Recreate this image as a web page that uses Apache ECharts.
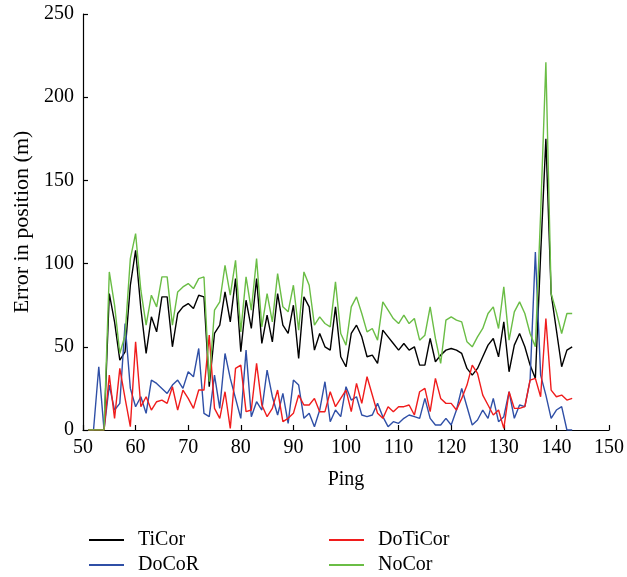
<!DOCTYPE html>
<html>
<head>
<meta charset="utf-8">
<script src="https://cdn.jsdelivr.net/npm/echarts@6/dist/echarts.min.js"></script>
<style>
  html, body { margin: 0; padding: 0; background: #ffffff; }
  #chart { width: 627px; height: 577px; }
</style>
</head>
<body>
<div id="chart"></div>
<script>
// Ping numbers (x) and position error in metres for each correction method
const pings = [
  51, 52, 53, 54, 55, 56, 57, 58, 59, 60, 61, 62, 63, 64, 65, 66, 67, 68, 69, 70,
  71, 72, 73, 74, 75, 76, 77, 78, 79, 80, 81, 82, 83, 84, 85, 86, 87, 88, 89, 90,
  91, 92, 93, 94, 95, 96, 97, 98, 99, 100, 101, 102, 103, 104, 105, 106, 107, 108, 109, 110,
  111, 112, 113, 114, 115, 116, 117, 118, 119, 120, 121, 122, 123, 124, 125, 126, 127, 128, 129, 130,
  131, 132, 133, 134, 135, 136, 137, 138, 139, 140, 141, 142, 143
];

const tiCor = [
  0, 0, 0, 0, 82, 65, 42, 47, 87, 108, 73, 46, 68, 59, 80, 80, 50, 70, 74, 76,
  73, 81, 80, 26, 58, 63, 83, 65, 91, 47, 78, 61, 91, 52, 69, 53, 82, 63, 58, 75,
  43, 80, 74, 48, 58, 50, 48, 74, 44, 38, 58, 63, 56, 44, 45, 40, 60, 56, 52, 48,
  52, 48, 50, 39, 39, 55, 41, 45, 48, 49, 48, 46, 37, 33, 37, 44, 51, 55, 44, 65,
  35, 51, 58, 50, 39, 31, 105, 175, 82, 60, 38, 48, 50
];

const doCoR = [
  0, 0, 38, 0, 27, 12, 16, 64, 25, 14, 20, 10, 30, 28, 25, 22, 27, 30, 25, 35,
  32, 49, 10, 8, 33, 13, 46, 31, 19, 7, 48, 8, 17, 12, 36, 20, 9, 22, 4, 30,
  27, 7, 10, 2, 12, 29, 5, 12, 8, 26, 18, 20, 9, 8, 9, 16, 8, 2, 5, 4,
  7, 9, 8, 7, 19, 7, 3, 3, 7, 3, 12, 25, 14, 3, 6, 12, 7, 19, 5, 8,
  23, 7, 15, 14, 30, 107, 33, 21, 7, 12, 14, 0, 0
];

const doTiCor = [
  0, 0, 0, 0, 33, 7, 37, 19, 2, 53, 14, 20, 12, 17, 18, 16, 26, 12, 24, 19,
  13, 24, 24, 57, 13, 7, 23, 1, 37, 39, 11, 12, 40, 15, 8, 13, 24, 5, 7, 10,
  21, 15, 15, 19, 11, 11, 23, 14, 19, 24, 11, 28, 16, 32, 21, 10, 7, 14, 11, 14,
  14, 15, 9, 23, 25, 11, 31, 19, 16, 16, 12, 19, 27, 39, 34, 21, 15, 9, 12, 1,
  23, 13, 13, 14, 30, 31, 20, 67, 24, 20, 21, 18, 19
];

const noCor = [
  0, 0, 0, 0, 95, 75, 46, 57, 103, 118, 84, 63, 81, 74, 92, 92, 63, 83, 86, 88,
  85, 91, 92, 29, 72, 77, 99, 81, 102, 59, 92, 72, 103, 62, 82, 65, 94, 74, 71, 87,
  60, 95, 87, 63, 68, 64, 62, 89, 58, 51, 74, 80, 70, 59, 61, 54, 77, 72, 67, 64,
  69, 64, 67, 54, 57, 74, 55, 40, 66, 68, 66, 65, 53, 50, 56, 61, 70, 74, 61, 86,
  54, 71, 77, 70, 58, 50, 130, 221, 82, 71, 58, 70, 70
];

const xTicks = { min: 50, max: 150, step: 10 };
const yTicks = { min: 0, max: 250, step: 50 };

const FONT = '"Liberation Serif", "DejaVu Serif", serif';

function pairs(values) {
  return pings.map((p, i) => [p, values[i]]);
}

function lineSeries(name, values, color) {
  return {
    name: name,
    type: 'line',
    data: pairs(values),
    symbol: 'none',
    showSymbol: false,
    silent: true,
    animation: false,
    lineStyle: { color: color, width: 1.4 },
    itemStyle: { color: color }
  };
}

// One legend box per entry so the 2x2 arrangement stays fixed
function legendEntry(name, left, top) {
  return {
    left: left,
    top: top,
    icon: 'rect',
    itemWidth: 35,
    itemHeight: 2,
    selectedMode: false,
    data: [name],
    textStyle: {
      fontFamily: FONT, fontSize: 20, color: '#000',
      padding: [0, 0, 0, 9]
    }
  };
}

const chart = echarts.init(document.getElementById('chart'), null, { renderer: 'canvas' });
chart.setOption({
  backgroundColor: '#ffffff',
  animation: false,
  grid: { left: 83, right: 16, top: 14, bottom: 147, containLabel: false },
  xAxis: {
    type: 'value',
    min: xTicks.min,
    max: xTicks.max,
    interval: xTicks.step,
    name: 'Ping',
    nameLocation: 'middle',
    nameGap: 40,
    nameTextStyle: { fontFamily: FONT, fontSize: 20, color: '#000' },
    axisLine: { show: true, lineStyle: { color: '#000', width: 1.2 } },
    axisTick: { show: true, inside: true, length: 5, lineStyle: { color: '#000', width: 1.2 } },
    axisLabel: { fontFamily: FONT, fontSize: 20, color: '#000', margin: 8 },
    splitLine: { show: false }
  },
  yAxis: {
    type: 'value',
    min: yTicks.min,
    max: yTicks.max,
    interval: yTicks.step,
    name: 'Error in position (m)',
    nameLocation: 'middle',
    nameGap: 50,
    nameTextStyle: { fontFamily: FONT, fontSize: 22, color: '#000' },
    axisLine: { show: true, lineStyle: { color: '#000', width: 1.2 } },
    axisTick: { show: true, inside: true, length: 5, lineStyle: { color: '#000', width: 1.2 } },
    axisLabel: { fontFamily: FONT, fontSize: 20, color: '#000', margin: 9 },
    splitLine: { show: false }
  },
  legend: [
    legendEntry('TiCor', 84, 525),
    legendEntry('DoCoR', 84, 550),
    legendEntry('DoTiCor', 324, 525),
    legendEntry('NoCor', 324, 550)
  ],
  series: [
    lineSeries('TiCor', tiCor, '#000000'),
    lineSeries('DoCoR', doCoR, '#2f4fa6'),
    lineSeries('DoTiCor', doTiCor, '#f01c1c'),
    lineSeries('NoCor', noCor, '#6abd45')
  ]
});
</script>
</body>
</html>
